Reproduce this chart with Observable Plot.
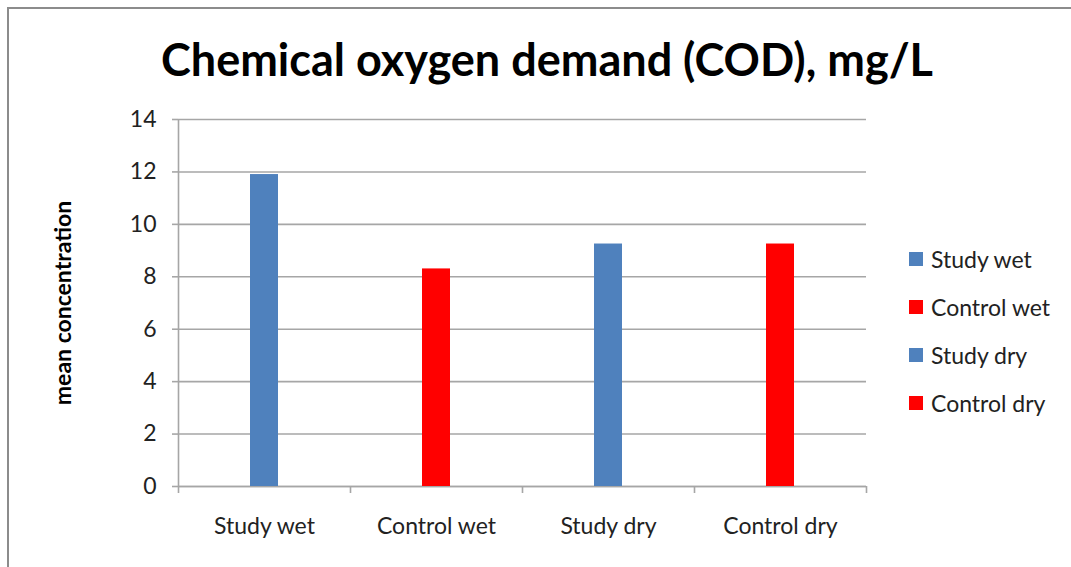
<!DOCTYPE html>
<html>
<head>
<meta charset="utf-8">
<script src="https://cdn.jsdelivr.net/npm/d3@7"></script>
<script src="https://cdn.jsdelivr.net/npm/@observablehq/plot@0.6"></script>
<style>
  body { margin: 0; background: #fff; font-family: Lato, "Open Sans", sans-serif; }
  #wrap { position: relative; width: 1071px; height: 567px; overflow: hidden; background: #fff; }
  #frame { position: absolute; left: 7px; top: 7px; width: 1200px; height: 700px; border: 2px solid #8c8c8c; pointer-events: none; }
  #title { position: absolute; left: 547px; top: 37px; transform: translateX(-50%); white-space: nowrap;
           font-family: Lato, sans-serif; font-weight: bold; font-size: 45px; color: #000; line-height: 1; }
  #chart { position: absolute; left: 0; top: 100px; }
  #chart svg text { font-size: 23px; fill: #222; }
  #ylabel { position: absolute; left: 62px; top: 303px; transform: translate(-50%, -50%) rotate(-90deg);
            white-space: nowrap; font-family: Lato, sans-serif; font-weight: bold; font-size: 23px; color: #000; }
  #legend { position: absolute; left: 909px; top: 235px; font-family: Lato, sans-serif; font-size: 23px; color: #222; }
  .item { display: flex; align-items: center; height: 48px; }
  .sw { width: 14px; height: 14px; margin-right: 8px; }
</style>
</head>
<body>
<div id="wrap">
  <div id="title">Chemical oxygen demand (COD), mg/L</div>
  <div id="chart"></div>
  <div id="ylabel">mean concentration</div>
  <div id="legend"></div>
  <div id="frame"></div>
</div>
<script>
const categories = ["Study wet", "Control wet", "Study dry", "Control dry"];
const values = [11.9, 8.3, 9.25, 9.25];
const colors = ["#4F81BD", "#FF0000", "#4F81BD", "#FF0000"];
const yTicks = [0, 2, 4, 6, 8, 10, 12, 14];

const data = categories.map((c, i) => ({category: c, value: values[i], color: colors[i]}));

const W = 1071, H = 467;
const mL = 178, mR = 205, mT = 19, mB = 81;
const step = (W - mL - mR) / categories.length;
const barW = 28;
const inset = (step - barW) / 2;
const gridColor = "#a6a6a6";
const font = "Lato, sans-serif";

const plot = Plot.plot({
  width: W,
  height: H,
  marginLeft: mL,
  marginRight: mR,
  marginTop: mT,
  marginBottom: mB,
  style: {background: "transparent", fontFamily: font, fontSize: "23px", color: "#000"},
  x: {domain: categories, padding: 0, label: null},
  y: {domain: [0, 14], ticks: yTicks, label: null},
  marks: [
    Plot.gridY(yTicks, {stroke: gridColor, strokeOpacity: 1, strokeWidth: 1.6}),
    Plot.axisY(yTicks, {tickSize: 6, tickPadding: 16, stroke: gridColor, strokeWidth: 1.6, fill: "#222", label: null}),
    Plot.axisX({tickSize: 0, tickPadding: 31, fill: "#222", label: null}),
    Plot.ruleY([0], {stroke: gridColor, strokeWidth: 1.6}),
    Plot.ruleX([categories[0]], {dx: -step / 2, stroke: gridColor, strokeWidth: 1.6}),
    Plot.ruleX(categories, {x: d => d, dx: -step / 2, y1: 0, y2: 0, insetBottom: -7, stroke: gridColor, strokeWidth: 1.6}),
    Plot.ruleX([categories[categories.length - 1]], {x: d => d, dx: step / 2, y1: 0, y2: 0, insetBottom: -7, stroke: gridColor, strokeWidth: 1.6}),
    Plot.barY(data, {x: "category", y: "value", fill: "color", insetLeft: inset, insetRight: inset})
  ]
});
document.getElementById("chart").appendChild(plot);

const legend = document.getElementById("legend");
categories.forEach((c, i) => {
  const item = document.createElement("div");
  item.className = "item";
  const sw = document.createElement("div");
  sw.className = "sw";
  sw.style.background = colors[i];
  const t = document.createElement("span");
  t.textContent = c;
  item.appendChild(sw);
  item.appendChild(t);
  legend.appendChild(item);
});
</script>
</body>
</html>
